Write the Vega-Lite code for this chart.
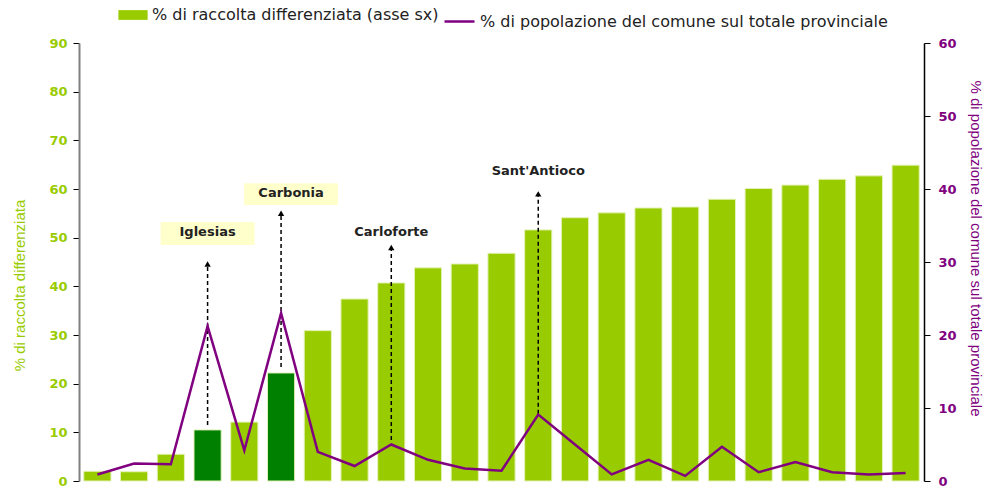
{
  "$schema": "https://vega.github.io/schema/vega-lite/v6.json",
  "width": 845,
  "height": 438,
  "autosize": {"type": "none"},
  "padding": {"left": 79, "top": 43, "right": 61, "bottom": 6},
  "config": {"view": {"stroke": null}, "font": "DejaVu Sans"},
  "data": {
    "values": [
      {"name": "C01", "rd": 2.0, "pop": 0.9},
      {"name": "C02", "rd": 1.9, "pop": 2.4},
      {"name": "C03", "rd": 5.5, "pop": 2.3},
      {"name": "Iglesias", "rd": 10.5, "pop": 21.2, "hl": true, "label": "Iglesias", "ly": 51.2, "b0": 48.5, "b1": 53.2, "a0": 11.5, "a1": 44.6},
      {"name": "C05", "rd": 12.1, "pop": 4.2},
      {"name": "Carbonia", "rd": 22.2, "pop": 23.0, "hl": true, "label": "Carbonia", "ly": 59.2, "b0": 56.7, "b1": 61.2, "a0": 23.4, "a1": 55.0},
      {"name": "C07", "rd": 30.9, "pop": 4.0},
      {"name": "C08", "rd": 37.4, "pop": 2.05},
      {"name": "Carloforte", "rd": 40.7, "pop": 5.0, "label": "Carloforte", "ly": 51.2, "a0": 8.4, "a1": 48.0},
      {"name": "C10", "rd": 43.8, "pop": 2.9},
      {"name": "C11", "rd": 44.6, "pop": 1.7},
      {"name": "C12", "rd": 46.8, "pop": 1.4},
      {"name": "Sant'Antioco", "rd": 51.6, "pop": 9.1, "label": "Sant'Antioco", "ly": 63.7, "a0": 13.8, "a1": 59.0},
      {"name": "C14", "rd": 54.1, "pop": 5.0},
      {"name": "C15", "rd": 55.1, "pop": 0.9},
      {"name": "C16", "rd": 56.1, "pop": 2.9},
      {"name": "C17", "rd": 56.3, "pop": 0.7},
      {"name": "C18", "rd": 57.9, "pop": 4.7},
      {"name": "C19", "rd": 60.1, "pop": 1.2},
      {"name": "C20", "rd": 60.8, "pop": 2.6},
      {"name": "C21", "rd": 62.0, "pop": 1.2},
      {"name": "C22", "rd": 62.7, "pop": 0.9},
      {"name": "C23", "rd": 64.9, "pop": 1.1}
    ]
  },
  "encoding": {
    "x": {"field": "name", "type": "nominal", "sort": null, "axis": null,
          "scale": {"paddingInner": 0.26, "paddingOuter": 0.13}}
  },
  "layer": [
    {
      "layer": [
        {
          "mark": {"type": "bar", "stroke": "#E4F2B8", "strokeWidth": 1},
          "encoding": {
            "y": {"field": "rd", "type": "quantitative", "title": "% di raccolta differenziata",
                  "scale": {"domain": [0, 90], "nice": false},
                  "axis": {"orient": "left", "values": [0, 10, 20, 30, 40, 50, 60, 70, 80, 90],
                           "grid": false, "domainColor": "#808080", "domainWidth": 2,
                           "tickColor": "#000000", "tickSize": 6, "tickWidth": 1,
                           "labelColor": "#99CC00", "labelFont": "DejaVu Sans", "labelFontSize": 13,
                           "labelFontWeight": "bold", "labelPadding": 6,
                           "titleColor": "#99CC00", "titleFont": "Liberation Sans", "titleFontSize": 15,
                           "titleFontWeight": "normal", "titlePadding": 21, "titleY": 242}},
            "color": {
              "condition": {"test": "datum.hl === true", "value": "#008000"},
              "datum": "% di raccolta differenziata (asse sx)",
              "scale": {"range": ["#99CC00"]},
              "legend": {"orient": "none", "legendX": 44, "legendY": -38, "title": null,
                         "symbolType": "M-1.5,-0.5H1.5V0.5H-1.5Z", "symbolSize": 380,
                         "symbolStrokeWidth": 0, "labelOffset": 9,
                         "labelFont": "DejaVu Sans", "labelFontSize": 16, "labelColor": "#222222",
                         "labelLimit": 600}
            }
          }
        },
        {
          "transform": [{"filter": "datum.b0 != null && datum.label !== 'Carbonia'"}],
          "mark": {"type": "bar", "width": 94, "fill": "#FFFFCC"},
          "encoding": {
            "y": {"field": "b0", "type": "quantitative", "title": "% di raccolta differenziata"},
            "y2": {"field": "b1"}
          }
        },
        {
          "transform": [{"filter": "datum.label === 'Carbonia'"}],
          "mark": {"type": "bar", "width": 94, "fill": "#FFFFCC", "xOffset": 10},
          "encoding": {
            "y": {"field": "b0", "type": "quantitative", "title": "% di raccolta differenziata"},
            "y2": {"field": "b1"}
          }
        },
        {
          "transform": [{"filter": "datum.a0 != null"}],
          "mark": {"type": "rule", "color": "#000000", "strokeWidth": 1.5, "strokeDash": [4, 3]},
          "encoding": {
            "y": {"field": "a0", "type": "quantitative", "title": "% di raccolta differenziata"},
            "y2": {"field": "a1"}
          }
        },
        {
          "transform": [{"filter": "datum.a1 != null"}],
          "mark": {"type": "point", "shape": "triangle-up", "filled": true, "color": "#000000", "size": 40, "opacity": 1},
          "encoding": {
            "y": {"field": "a1", "type": "quantitative", "title": "% di raccolta differenziata"}
          }
        },
        {
          "transform": [{"filter": "datum.label != null && datum.label !== 'Carbonia'"}],
          "mark": {"type": "text", "font": "DejaVu Sans", "fontSize": 13, "fontWeight": "bold", "color": "#222222", "baseline": "middle", "align": "center"},
          "encoding": {
            "y": {"field": "ly", "type": "quantitative", "title": "% di raccolta differenziata"},
            "text": {"field": "label"}
          }
        },
        {
          "transform": [{"filter": "datum.label === 'Carbonia'"}],
          "mark": {"type": "text", "font": "DejaVu Sans", "fontSize": 13, "fontWeight": "bold", "color": "#222222", "baseline": "middle", "align": "center", "xOffset": 10},
          "encoding": {
            "y": {"field": "ly", "type": "quantitative", "title": "% di raccolta differenziata"},
            "text": {"field": "label"}
          }
        }
      ]
    },
    {
      "mark": {"type": "line", "strokeWidth": 2.5},
      "encoding": {
        "y": {"field": "pop", "type": "quantitative", "title": "% di popolazione del comune sul totale provinciale",
              "scale": {"domain": [0, 60], "nice": false},
              "axis": {"orient": "right", "values": [0, 10, 20, 30, 40, 50, 60], "grid": false,
                       "domainColor": "#000000", "domainWidth": 1.5,
                       "tickColor": "#000000", "tickSize": 6, "tickWidth": 1,
                       "labelColor": "#800080", "labelFont": "DejaVu Sans", "labelFontSize": 13,
                       "labelFontWeight": "bold", "labelPadding": 8,
                       "titleColor": "#800080", "titleFont": "Liberation Sans", "titleFontSize": 15,
                       "titleFontWeight": "normal", "titlePadding": 11, "titleY": 205}},
        "stroke": {
          "datum": "% di popolazione del comune sul totale provinciale",
          "scale": {"range": ["#800080"]},
          "legend": {"orient": "none", "legendX": 364, "legendY": -38, "title": null,
                     "symbolType": "stroke", "symbolSize": 900, "symbolStrokeWidth": 2.5,
                     "labelOffset": 4,
                     "labelFont": "DejaVu Sans", "labelFontSize": 16, "labelColor": "#222222",
                     "labelLimit": 600}
        }
      }
    }
  ],
  "resolve": {"scale": {"y": "independent"}}
}
